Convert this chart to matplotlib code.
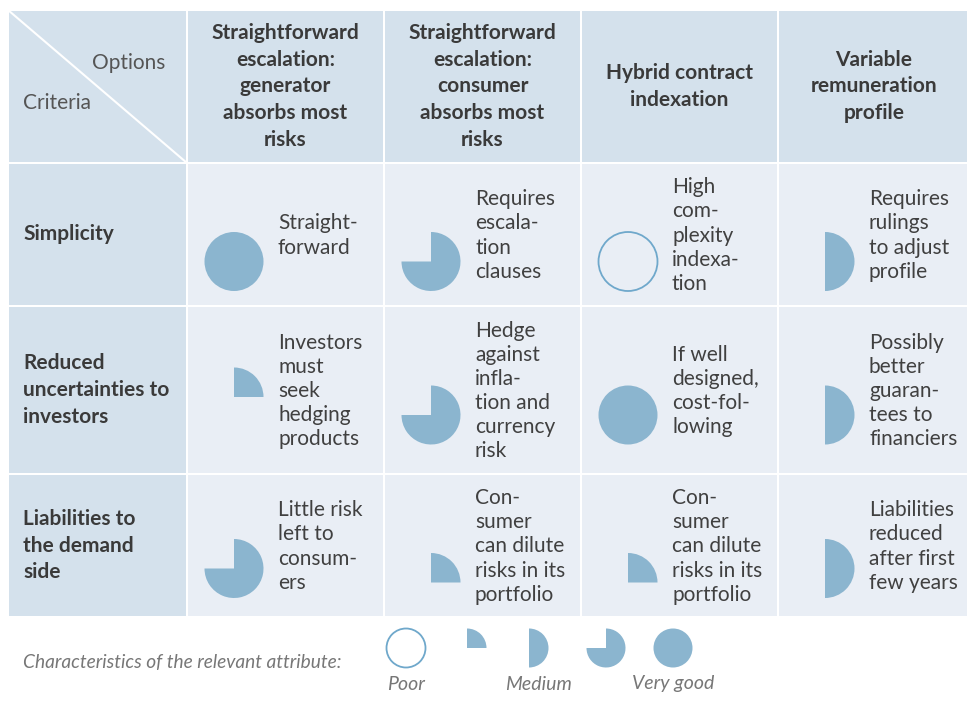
import matplotlib
matplotlib.use("Agg")
import matplotlib.pyplot as plt
from matplotlib.patches import Rectangle, Circle, Wedge

# Data
options = ["Straightforward\nescalation:\ngenerator\nabsorbs most\nrisks",
           "Straightforward\nescalation:\nconsumer\nabsorbs most\nrisks",
           "Hybrid contract\nindexation",
           "Variable\nremuneration\nprofile"]
criteria = ["Simplicity",
            "Reduced\nuncertainties to\ninvestors",
            "Liabilities to\nthe demand\nside"]
# Harvey ball score in quarters (0 = poor ... 4 = very good)
scores = [[4, 3, 0, 2],
          [1, 3, 4, 2],
          [3, 1, 1, 2]]
notes = [["Straight-\nforward",
          "Requires\nescala-\ntion\nclauses",
          "High\ncom-\nplexity\nindexa-\ntion",
          "Requires\nrulings\nto adjust\nprofile"],
         ["Investors\nmust\nseek\nhedging\nproducts",
          "Hedge\nagainst\ninfla-\ntion and\ncurrency\nrisk",
          "If well\ndesigned,\ncost-fol-\nlowing",
          "Possibly\nbetter\nguaran-\ntees to\nfinanciers"],
         ["Little risk\nleft to\nconsum-\ners",
          "Con-\nsumer\ncan dilute\nrisks in its\nportfolio",
          "Con-\nsumer\ncan dilute\nrisks in its\nportfolio",
          "Liabilities\nreduced\nafter first\nfew years"]]
legend_scores = [0, 1, 2, 3, 4]
legend_labels = {0: "Poor", 2: "Medium", 4: "Very good"}

# Layout (pixel coordinates)
col_edges = [8, 187, 384, 581, 778, 970]
row_edges = [10, 163, 306, 474, 617]
ball_dy = [[27, 27, 27, 27],
           [7, 25, 25, 25],
           [23, 37, 37, 23]]

HEAD_BG = "#d4e1ec"
BODY_BG = "#e9eef5"
BALL = "#8bb5cf"
RING = "#6fa8cb"
TXT = "#3a3a3a"
FONT = "Lato"

fig = plt.figure(figsize=(9.67, 7.01), dpi=100)
ax = fig.add_axes([0, 0, 1, 1])
ax.set_xlim(0, 967)
ax.set_ylim(701, 0)
ax.axis("off")


def harvey(x, y, r, q):
    if q == 0:
        ax.add_patch(Circle((x, y), r, facecolor="none", edgecolor=RING, lw=1.3))
    elif q == 4:
        ax.add_patch(Circle((x, y), r, facecolor=BALL, edgecolor="none"))
    else:
        # y axis is inverted: start at 12 o'clock and go clockwise
        ax.add_patch(Wedge((x, y), r, -90, -90 + 90 * q, facecolor=BALL, edgecolor="none"))


# cells
for i in range(len(row_edges) - 1):
    for j in range(len(col_edges) - 1):
        x0, x1 = col_edges[j] + 1, col_edges[j + 1] - 1
        y0, y1 = row_edges[i] + 1, row_edges[i + 1] - 1
        bg = HEAD_BG if (i == 0 or j == 0) else BODY_BG
        ax.add_patch(Rectangle((x0, y0), x1 - x0, y1 - y0, facecolor=bg, edgecolor="none"))

# corner cell
ax.plot([col_edges[0], col_edges[1]], [row_edges[0], row_edges[1]], color="white", lw=1.5)
ax.text(165, 63, "Options", ha="right", va="center", fontsize=15, color="#555555",
        family=FONT)
ax.text(23, 103, "Criteria", ha="left", va="center", fontsize=15, color="#555555",
        family=FONT)

# column headers
for j, name in enumerate(options):
    cx = (col_edges[j + 1] + col_edges[j + 2]) / 2
    cy = (row_edges[0] + row_edges[1]) / 2
    ax.text(cx, cy, name, ha="center", va="center", fontsize=15, fontweight="bold",
            color=TXT, family=FONT, linespacing=1.42)

# row labels, balls and notes
for i, name in enumerate(criteria):
    y0, y1 = row_edges[i + 1], row_edges[i + 2]
    cy = (y0 + y1) / 2
    ax.text(23, cy, name, ha="left", va="center", fontsize=15, fontweight="bold",
            color=TXT, family=FONT, linespacing=1.43)
    for j in range(len(options)):
        x0 = col_edges[j + 1]
        harvey(x0 + 47, cy + ball_dy[i][j], 29.5, scores[i][j])
        ax.text(x0 + 91, cy + 1, notes[i][j], ha="left", va="center", fontsize=15,
                color="#404040", family=FONT, linespacing=1.26)

# legend
ax.text(23, 662, "Characteristics of the relevant attribute:", ha="left", va="center",
        fontsize=13.8, style="italic", color="#777777", family=FONT)
leg_x = [406, 467, 529, 606, 673]
for k, q in enumerate(legend_scores):
    cx = leg_x[k]
    harvey(cx, 648, 19.5, q)
    if q in legend_labels:
        lx = cx if q != 2 else cx + 9
        ax.text(lx, 684, legend_labels[q], ha="center", va="center", fontsize=14,
                style="italic", color="#777777", family=FONT)

fig.savefig("out.png", dpi=100)
